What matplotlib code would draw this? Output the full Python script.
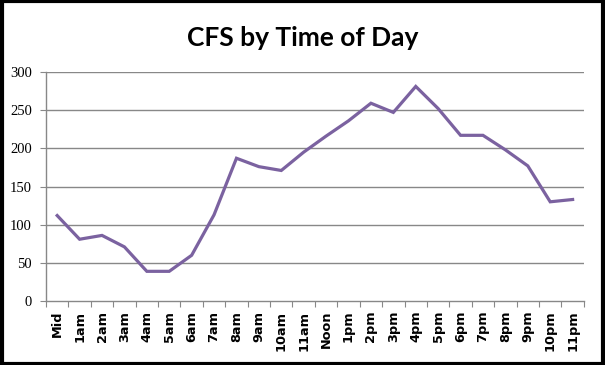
import matplotlib
matplotlib.use("Agg")
import matplotlib.pyplot as plt
from matplotlib.patches import Rectangle
import numpy as np

categories = ["Mid", "1am", "2am", "3am", "4am", "5am", "6am", "7am", "8am", "9am", "10am", "11am",
              "Noon", "1pm", "2pm", "3pm", "4pm", "5pm", "6pm", "7pm", "8pm", "9pm", "10pm", "11pm"]
values = [112, 81, 86, 71, 39, 39, 60, 113, 187, 176, 171, 195,
          216, 236, 259, 247, 281, 252, 217, 217, 198, 177, 130, 133]
yticks = [0, 50, 100, 150, 200, 250, 300]

fig = plt.figure(figsize=(6.05, 3.65), dpi=100)
ax = fig.add_axes([0.076, 0.175, 0.889, 0.628])

x = np.arange(len(categories))
ax.plot(x, values, color="#7b62a0", linewidth=2.3, solid_joinstyle="miter", zorder=3)

ax.set_xlim(-0.5, len(categories) - 0.5)
ax.set_ylim(0, 300)
ax.set_yticks(yticks)
ax.set_yticklabels([str(v) for v in yticks], fontfamily="Liberation Serif", fontsize=10.5)
for v in yticks[1:]:
    ax.axhline(v, color="#888888", linewidth=1.0, zorder=1)

ax.set_xticks(np.arange(len(categories) + 1) - 0.5)
ax.set_xticklabels([])
ax.set_xticks(x, minor=True)
ax.set_xticklabels(categories, minor=True, rotation=90, fontfamily="DejaVu Sans",
                   fontweight="bold", fontsize=9.3)
ax.tick_params(axis="x", which="minor", length=0, pad=7)
ax.tick_params(axis="x", which="major", length=4, color="#888888", direction="out")
ax.tick_params(axis="y", length=4, color="#888888", direction="out", pad=6)

for s in ["top", "right"]:
    ax.spines[s].set_visible(False)
for s in ["left", "bottom"]:
    ax.spines[s].set_color("#888888")
    ax.spines[s].set_linewidth(1.0)

fig.text(0.5, 0.895, "CFS by Time of Day", ha="center", va="center",
         fontfamily="Lato", fontweight="bold", fontsize=19)

fig.patches.append(Rectangle((0.003, 0.004), 0.994, 0.992, transform=fig.transFigure,
                             fill=False, edgecolor="black", linewidth=3))

fig.savefig("out.png", dpi=100)
